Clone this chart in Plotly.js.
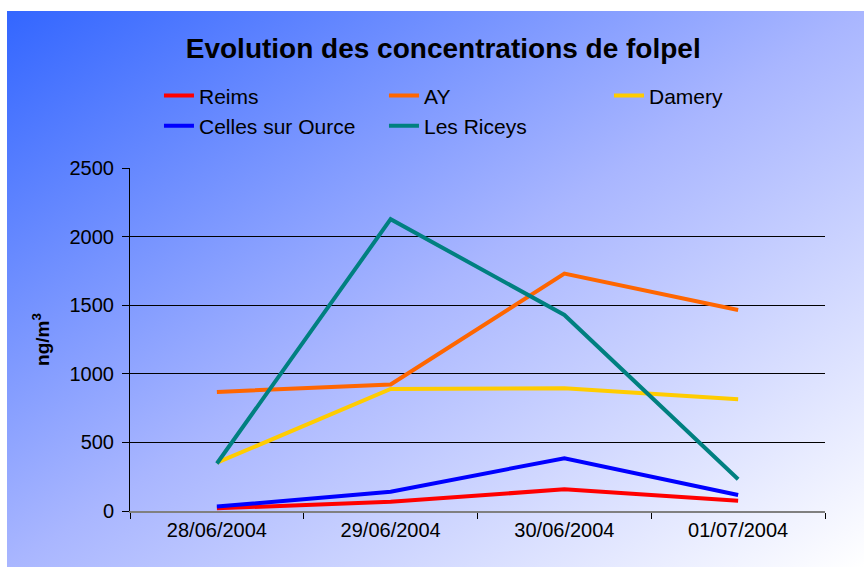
<!DOCTYPE html>
<html>
<head>
<meta charset="utf-8">
<script src="https://cdn.plot.ly/plotly-3.0.1.min.js"></script>
<style>
  html, body { margin: 0; padding: 0; background: #ffffff; }
  #wrap { position: relative; width: 864px; height: 567px; overflow: hidden; }
  #bg { position: absolute; left: 7px; top: 11px; width: 857px; height: 556px;
        background: linear-gradient(to bottom right, #3366ff 0%, #a9b6ff 50%, #ffffff 100%); }
  #chart { position: absolute; left: 0; top: 0; width: 864px; height: 567px; }
</style>
</head>
<body>
<div id="wrap"><div id="bg"></div><div id="chart"></div></div>
<script>
const dates = ["28/06/2004", "29/06/2004", "30/06/2004", "01/07/2004"];
const reims = [20, 67, 158, 75];
const ay = [868, 922, 1730, 1465];
const damery = [352, 889, 895, 815];
const celles = [32, 140, 385, 116];
const lesRiceys = [346, 2127, 1429, 231];

const seriesNames = ["Reims", "AY", "Damery", "Celles sur Ource", "Les Riceys"];
const seriesValues = [reims, ay, damery, celles, lesRiceys];
const seriesColors = ["#ff0000", "#ff6600", "#ffcc00", "#0000ff", "#008080"];

const traces = seriesNames.map((n, i) => ({
  type: "scatter", mode: "lines", name: n,
  x: dates, y: seriesValues[i],
  line: { color: seriesColors[i], width: 4 }
}));

const layout = {
  width: 864, height: 567,
  paper_bgcolor: "rgba(0,0,0,0)", plot_bgcolor: "rgba(0,0,0,0)",
  margin: { l: 130, r: 39, t: 168, b: 56 },
  font: { family: "Arial, Liberation Sans, sans-serif", color: "#000" },
  title: { text: "<b>Evolution des concentrations de folpel</b>", font: { size: 28, color: "#000" },
           xref: "container", x: 0.513, xanchor: "center", yref: "container", y: 0.915, yanchor: "middle" },
  showlegend: true,
  legend: { orientation: "h", xref: "container", yref: "container", x: 0.184, y: 0.867,
            xanchor: "left", yanchor: "top", bgcolor: "rgba(0,0,0,0)",
            font: { size: 21, color: "#000" }, entrywidth: 180, entrywidthmode: "pixels",
            traceorder: "normal", tracegroupgap: 0 },
  xaxis: { type: "category", range: [-0.5, 3.5], tickson: "boundaries",
           ticks: "outside", ticklen: 6, tickcolor: "#000", tickwidth: 1,
           showline: true, linecolor: "#808080", linewidth: 2,
           showgrid: false, tickfont: { size: 20 }, fixedrange: true },
  yaxis: { range: [0, 2500], dtick: 500, tick0: 0, ticks: "outside", ticklen: 7,
           tickcolor: "#000", showline: true, linecolor: "#000", linewidth: 1,
           showgrid: true, gridcolor: "#000", gridwidth: 1, zeroline: false,
           tickfont: { size: 20 }, ticklabelstandoff: 4,
           title: { text: "<b>ng/m<sup>3</sup></b>", font: { size: 19 }, standoff: 14 } }
};

Plotly.newPlot("chart", traces, layout, { displayModeBar: false, staticPlot: true });
</script>
</body>
</html>
